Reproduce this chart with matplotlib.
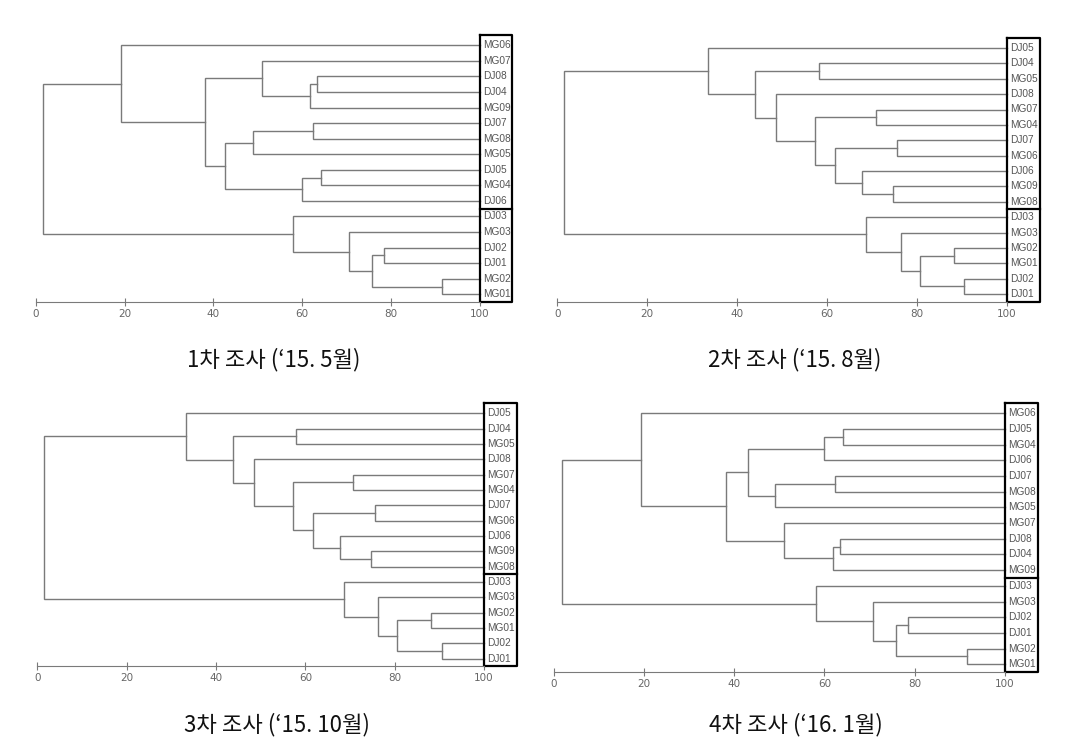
import matplotlib
matplotlib.use('Agg')
import matplotlib.pyplot as plt

plt.rcParams['font.family'] = ['Noto Sans CJK KR', 'DejaVu Sans']

# 패널 제목
titles = ['1차 조사 (‘15. 5월)', '2차 조사 (‘15. 8월)',
          '3차 조사 (‘15. 10월)', '4차 조사 (‘16. 1월)']

# 잎 순서 (위에서 아래로)
leaves_1 = ['MG06', 'MG07', 'DJ08', 'DJ04', 'MG09', 'DJ07', 'MG08', 'MG05', 'DJ05',
            'MG04', 'DJ06', 'DJ03', 'MG03', 'DJ02', 'DJ01', 'MG02', 'MG01']
leaves_2 = ['DJ05', 'DJ04', 'MG05', 'DJ08', 'MG07', 'MG04', 'DJ07', 'MG06', 'DJ06',
            'MG09', 'MG08', 'DJ03', 'MG03', 'MG02', 'MG01', 'DJ02', 'DJ01']
leaves_3 = list(leaves_2)
leaves_4 = ['MG06', 'DJ05', 'MG04', 'DJ06', 'DJ07', 'MG08', 'MG05', 'MG07', 'DJ08',
            'DJ04', 'MG09', 'DJ03', 'MG03', 'DJ02', 'DJ01', 'MG02', 'MG01']

# 병합 (노드 a, 노드 b, 유사도) - 새 노드 번호는 17부터
merges_1 = [(2, 3, 63.4), (17, 4, 61.8), (1, 18, 50.9), (5, 6, 62.4), (20, 7, 49.0),
            (8, 9, 64.2), (22, 10, 60.0), (21, 23, 42.7), (19, 24, 38.2), (0, 25, 19.2),
            (13, 14, 78.4), (15, 16, 91.6), (27, 28, 75.7), (12, 29, 70.6), (11, 30, 58.0),
            (26, 31, 1.65)]
merges_2 = [(1, 2, 58.2), (4, 5, 71.0), (6, 7, 75.7), (9, 10, 74.6), (8, 20, 67.9),
            (19, 21, 61.8), (18, 22, 57.3), (3, 23, 48.6), (17, 24, 43.9), (0, 25, 33.5),
            (13, 14, 88.3), (15, 16, 90.6), (27, 28, 80.7), (12, 29, 76.4), (11, 30, 68.8),
            (26, 31, 1.6)]
merges_3 = [(1, 2, 58.0), (4, 5, 70.7), (6, 7, 75.7), (9, 10, 74.6), (8, 20, 67.7),
            (19, 21, 61.7), (18, 22, 57.3), (3, 23, 48.4), (17, 24, 43.7), (0, 25, 33.4),
            (13, 14, 88.2), (15, 16, 90.5), (27, 28, 80.6), (12, 29, 76.3), (11, 30, 68.7),
            (26, 31, 1.6)]
merges_4 = [(1, 2, 64.2), (17, 3, 60.0), (4, 5, 62.4), (19, 6, 49.1), (18, 20, 43.0),
            (8, 9, 63.5), (22, 10, 61.8), (7, 23, 51.1), (21, 24, 38.2), (0, 25, 19.2),
            (13, 14, 78.6), (15, 16, 91.6), (27, 28, 75.8), (12, 29, 70.8), (11, 30, 58.2),
            (26, 31, 1.7)]

# 픽셀 배치: x=0 위치, x=100 위치, 첫 잎 y, 마지막 잎 y, 제목 x, 제목 y
layout = [(36, 479.7, 45.3, 294.3, 274, 360),
          (557.3, 1006.7, 48, 294, 795, 360),
          (37.3, 484, 413.3, 658.7, 277, 725),
          (554, 1004.7, 413.3, 664.3, 796, 725)]

W, H = 1088, 744
fig = plt.figure(figsize=(W / 100, H / 100), dpi=100)

line_c = '#7a7a7a'
label_font = ['Liberation Sans', 'DejaVu Sans']
panels = [(leaves_1, merges_1), (leaves_2, merges_2), (leaves_3, merges_3), (leaves_4, merges_4)]

for (leaves, merges), (x0, x1, yt, yb, tx, ty), title in zip(panels, layout, titles):
    n = len(leaves)
    s = (yb - yt) / (n - 1)
    top = yt - 0.5 * s
    bot = yb + 0.5 * s
    ax = fig.add_axes([x0 / W, 1 - bot / H, (x1 - x0) / W, (bot - top) / H])
    ax.set_xlim(0, 100)
    ax.set_ylim(n - 0.5, -0.5)

    pos = {i: (100.0, float(i)) for i in range(n)}
    for k, (a, b, h) in enumerate(merges):
        xa, ya = pos[a]
        xb, yb_ = pos[b]
        ax.plot([xa, h, h, xb], [ya, ya, yb_, yb_], color=line_c, lw=1.0,
                solid_joinstyle='miter', clip_on=False)
        pos[n + k] = (h, (ya + yb_) / 2)

    for i, lab in enumerate(leaves):
        ax.text(100.8, i, lab, fontsize=7.3, color='#555555', va='center', ha='left',
                family=label_font, clip_on=False)

    # 군집 상자
    ax.plot([100, 107.3, 107.3, 100, 100], [-0.65, -0.65, n - 0.5, n - 0.5, -0.65],
            color='black', lw=1.6, clip_on=False)
    ax.plot([100, 107.3], [10.5, 10.5], color='black', lw=1.6, clip_on=False)

    for sp in ['top', 'right', 'left']:
        ax.spines[sp].set_visible(False)
    ax.spines['bottom'].set_color(line_c)
    ax.set_yticks([])
    ax.set_xticks([0, 20, 40, 60, 80, 100])
    ax.tick_params(axis='x', direction='inout', length=6, width=0.8, colors=line_c,
                   labelsize=7.5, labelcolor='#666666', pad=2)
    for t in ax.get_xticklabels():
        t.set_family(['DejaVu Sans'])

    fig.text(tx / W, 1 - ty / H, title, fontsize=16, ha='center', va='center', color='#111111')

fig.savefig('out.png', dpi=100)
